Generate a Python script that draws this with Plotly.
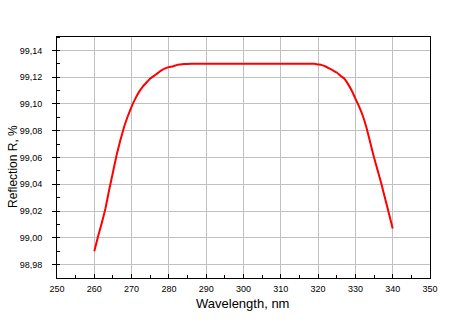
import plotly.graph_objects as go

wavelength = [260, 261, 262, 263, 264, 265, 266, 267, 268, 269, 270, 271, 272,
              273, 274, 275, 276, 277, 278, 279, 280, 281, 282, 283, 284, 286,
              290, 300, 310, 318, 319, 320, 321, 322, 323, 324, 325, 326, 327,
              328, 329, 330, 331, 332, 333, 334, 335, 336, 337, 338, 339, 340]
reflection = [98.990, 99.001, 99.011, 99.022, 99.036, 99.049, 99.062, 99.073,
              99.083, 99.091, 99.098, 99.104, 99.109, 99.113, 99.116, 99.119,
              99.121, 99.123, 99.125, 99.1265, 99.1275, 99.128, 99.129, 99.1295,
              99.1298, 99.130, 99.130, 99.130, 99.130, 99.130, 99.130, 99.1295,
              99.129, 99.128, 99.1265, 99.125, 99.1235, 99.121, 99.119, 99.115,
              99.110, 99.104, 99.098, 99.091, 99.082, 99.071, 99.060, 99.050,
              99.040, 99.029, 99.018, 99.007]

x_ticks = list(range(250, 351, 10))
y_ticks = [98.98, 99.00, 99.02, 99.04, 99.06, 99.08, 99.10, 99.12, 99.14]

fig = go.Figure()
fig.add_trace(go.Scatter(x=wavelength, y=reflection, mode="lines",
                         line=dict(color="#ff0000", width=2, shape="spline", smoothing=0.3),
                         showlegend=False))

font_family = "Liberation Sans, Arial, sans-serif"
tickfont = dict(family=font_family, size=9, color="black")
fig.update_layout(
    width=450, height=330,
    margin=dict(l=57, r=20, t=37, b=52),
    paper_bgcolor="white", plot_bgcolor="white",
    separators=", ",
    font=dict(family=font_family, color="black"),
    annotations=[
        dict(text="Wavelength, nm", xref="paper", yref="paper", x=0.496, y=-0.104,
             showarrow=False, xanchor="center", yanchor="middle",
             font=dict(size=13, family=font_family, color="black")),
        dict(text="Reflection R, %", xref="paper", yref="paper", x=-0.118, y=0.465,
             showarrow=False, xanchor="center", yanchor="middle", textangle=-90,
             font=dict(size=12, family=font_family, color="black")),
    ],
)
fig.update_xaxes(
    range=[250, 350], tickvals=x_ticks, ticktext=[str(v) for v in x_ticks],
    showgrid=True, gridcolor="#c0c0c0", gridwidth=1,
    showline=True, linecolor="black", linewidth=1, mirror=True,
    ticks="inside", ticklen=4, tickcolor="black",
    minor=dict(dtick=5, tick0=250, ticks="inside", ticklen=3, tickcolor="black", showgrid=False),
    tickfont=tickfont, zeroline=False, ticklabelstandoff=2, automargin=False,
)
fig.update_yaxes(
    range=[98.97, 99.15], tickvals=y_ticks, ticktext=[f"{v:.2f}".replace(".", ",") for v in y_ticks],
    showgrid=True, gridcolor="#c0c0c0", gridwidth=1,
    showline=True, linecolor="black", linewidth=1, mirror=True,
    ticks="outside", ticklen=4, tickcolor="black",
    minor=dict(dtick=0.01, tick0=98.97, ticks="inside", ticklen=3, tickcolor="black", showgrid=False),
    tickfont=tickfont, zeroline=False, ticklabelstandoff=8, automargin=False,
)

fig.write_html("out.html")
